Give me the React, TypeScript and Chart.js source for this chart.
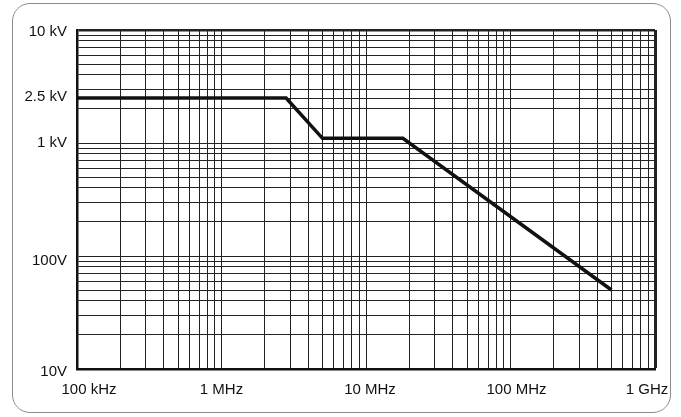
import React, { useEffect, useRef } from "react";
import { Chart, registerables } from "chart.js";

Chart.register(...registerables);

// Curve: breakpoints (frequency in Hz, voltage in V)
const freqHz = [1e5, 2.8e6, 5e6, 1.8e7, 5e8];
const voltV = [2500, 2500, 1100, 1100, 50];

// Axis tick labels
const xTickValues = [1e5, 1e6, 1e7, 1e8, 1e9];
const xTickLabels = ["100 kHz", "1 MHz", "10 MHz", "100 MHz", "1 GHz"];
const yTickValues = [10, 100, 1000, 2500, 10000];
const yTickLabels = ["10V", "100V", "1 kV", "2.5 kV", "10 kV"];

// per-label nudges seen in the reference
const xLabelNudge: Record<string, number> = {
  "100 kHz": 12,
  "10 MHz": 4,
  "100 MHz": 6,
  "1 GHz": -8,
};
const yLabelNudge: Record<string, number> = {
  "10 kV": 2,
  "2.5 kV": -1,
  "100V": 5,
  "10V": 3,
};

function logGrid(min: number, max: number, extra: number[] = []): number[] {
  const out: number[] = [];
  for (let d = min; d < max; d *= 10) {
    for (let m = 1; m < 10; m++) out.push(Math.round(d * m));
  }
  out.push(max);
  extra.forEach((v) => { if (!out.includes(v)) out.push(v); });
  return out.sort((a, b) => a - b);
}

const labelNudgePlugin = {
  id: "labelNudge",
  beforeDraw(chart: any) {
    try {
      chart.scales.x.getLabelItems().forEach((it: any) => {
        const n = xLabelNudge[it.label];
        if (n && !it._nudged) {
          it.options.translation[0] += n;
          it._nudged = true;
        }
      });
      chart.scales.y.getLabelItems().forEach((it: any) => {
        const n = yLabelNudge[it.label];
        if (n && !it._nudged) {
          it.options.translation[1] += n;
          it._nudged = true;
        }
      });
    } catch (e) {}
  },
};

export default function App() {
  const ref = useRef<HTMLCanvasElement | null>(null);

  useEffect(() => {
    document.body.style.margin = "0";
    const font = { family: "'Liberation Sans', Arial, sans-serif", size: 15 };
    const chart = new Chart(ref.current as HTMLCanvasElement, {
      type: "scatter",
      data: {
        datasets: [
          {
            data: freqHz.map((f, i) => ({ x: f, y: voltV[i] })),
            showLine: true,
            borderColor: "#111",
            borderWidth: 3.5,
            pointRadius: 0,
            tension: 0,
          },
        ],
      },
      options: {
        animation: false,
        responsive: false,
        devicePixelRatio: 1,
        layout: { padding: { left: 0, top: 30, right: 26, bottom: 0 } },
        plugins: { legend: { display: false }, tooltip: { enabled: false } },
        scales: {
          x: {
            type: "logarithmic",
            min: 1e5,
            max: 1e9,
            afterFit: (s: any) => {
              s.height = 48;
              s.paddingLeft = 0;
              s.paddingRight = 0;
            },
            afterBuildTicks: (s: any) => {
              s.ticks = logGrid(1e5, 1e9).map((v) => ({ value: v }));
            },
            ticks: {
              autoSkip: false,
              maxRotation: 0,
              padding: 12,
              color: "#111",
              font,
              callback: (v: any) => {
                const i = xTickValues.indexOf(Number(v));
                return i >= 0 ? xTickLabels[i] : "";
              },
            },
            grid: {
              color: "#222",
              lineWidth: (c: any) => (c.tick && c.tick.value === 1e9 ? 3 : 1),
              drawTicks: false,
            },
            border: { display: true, width: 2.5, color: "#111" },
          },
          y: {
            type: "logarithmic",
            min: 10,
            max: 10000,
            afterFit: (s: any) => {
              s.width = 77;
              s.paddingTop = 0;
              s.paddingBottom = 0;
            },
            afterBuildTicks: (s: any) => {
              s.ticks = logGrid(10, 10000, [2500]).map((v) => ({ value: v }));
            },
            ticks: {
              autoSkip: false,
              padding: 10,
              color: "#111",
              font,
              callback: (v: any) => {
                const i = yTickValues.indexOf(Number(v));
                return i >= 0 ? yTickLabels[i] : "";
              },
            },
            grid: {
              color: "#222",
              lineWidth: (c: any) => (c.tick && c.tick.value === 10000 ? 2.5 : 1),
              drawTicks: false,
            },
            border: { display: true, width: 2.5, color: "#111" },
          },
        },
      },
      plugins: [labelNudgePlugin],
    } as any);
    return () => chart.destroy();
  }, []);

  return (
    <div style={{ position: "absolute", left: 0, top: 0, width: 681, height: 417, background: "#fff" }}>
      <div
        style={{
          position: "absolute",
          left: 12,
          top: 3,
          width: 659,
          height: 410,
          boxSizing: "border-box",
          border: "1.5px solid #8c8c8c",
          borderRadius: 18,
        }}
      />
      <canvas ref={ref} width={681} height={417} style={{ position: "absolute", left: 0, top: 0, width: 681, height: 417 }} />
    </div>
  );
}
